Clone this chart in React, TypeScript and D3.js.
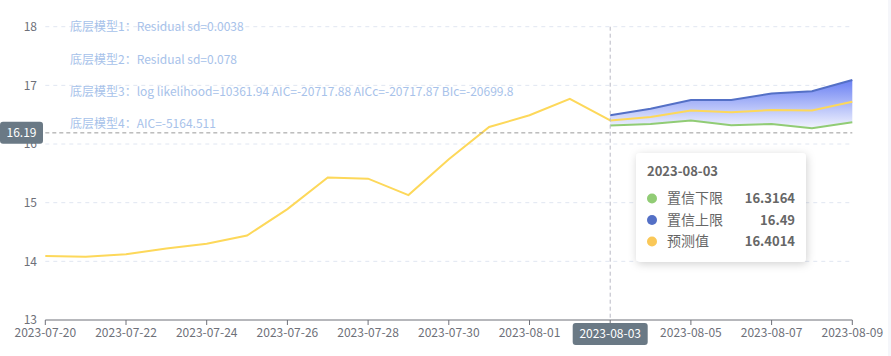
import React from "react";
import * as d3 from "d3";

const histDates = ["2023-07-20","2023-07-21","2023-07-22","2023-07-23","2023-07-24","2023-07-25","2023-07-26","2023-07-27","2023-07-28","2023-07-29","2023-07-30","2023-07-31","2023-08-01","2023-08-02","2023-08-03"];
const histValues = [14.09,14.08,14.12,14.22,14.30,14.44,14.89,15.43,15.41,15.13,15.74,16.29,16.49,16.77,16.4014];

const fcDates = ["2023-08-03","2023-08-04","2023-08-05","2023-08-06","2023-08-07","2023-08-08","2023-08-09"];
const lowerValues = [16.3164,16.34,16.40,16.32,16.34,16.27,16.37];
const upperValues = [16.49,16.60,16.75,16.75,16.86,16.90,17.09];
const predValues = [16.4014,16.46,16.57,16.54,16.58,16.57,16.72];

const xTicks = ["2023-07-20","2023-07-22","2023-07-24","2023-07-26","2023-07-28","2023-07-30","2023-08-01","2023-08-03","2023-08-05","2023-08-07","2023-08-09"];
const yTicks = [13,14,15,16,17,18];

const notes = [
  "底层模型1：Residual sd=0.0038",
  "底层模型2：Residual sd=0.078",
  "底层模型3：log likelihood=10361.94 AIC=-20717.88 AICc=-20717.87 BIc=-20699.8",
  "底层模型4：AIC=-5164.511",
];

const pointerDate = "2023-08-03";
const pointerY = 16.19;
const tooltipRows = [
  { name: "置信下限", value: "16.3164", color: "#91cc75" },
  { name: "置信上限", value: "16.49", color: "#5470c6" },
  { name: "预测值", value: "16.4014", color: "#fac858" },
];

const FONT = "'Noto Sans CJK SC', 'Noto Sans', sans-serif";

export default function App() {
  const W = 891, H = 356;
  const parse = (s: string) => new Date(s + "T00:00:00Z");
  const x = d3.scaleUtc().domain([parse("2023-07-20"), parse("2023-08-09")]).range([45.3, 852.3]);
  const y = d3.scaleLinear().domain([13, 18]).range([320, 26.7]);

  const line = d3.line<[string, number]>().x(d => x(parse(d[0]))).y(d => y(d[1]));
  const hist = histDates.map((d, i) => [d, histValues[i]] as [string, number]);
  const low = fcDates.map((d, i) => [d, lowerValues[i]] as [string, number]);
  const up = fcDates.map((d, i) => [d, upperValues[i]] as [string, number]);
  const pred = fcDates.map((d, i) => [d, predValues[i]] as [string, number]);
  const area = d3.area<number>()
    .x((_, i) => x(parse(fcDates[i])))
    .y0((_, i) => y(lowerValues[i]))
    .y1(d => y(d));

  const px = x(parse(pointerDate));
  const py = y(pointerY);
  const x0 = x.range()[0], x1 = x.range()[1];

  const tipX = 636, tipY = 153, tipW = 170, tipH = 109;

  return (
    <svg width={W} height={H} style={{ position: "absolute", left: 0, top: 0, display: "block", fontFamily: FONT }}>
      <defs>
        <linearGradient id="band" x1="0" y1="0" x2="0" y2="1">
          <stop offset="0" stopColor="#6a80f3" />
          <stop offset="1" stopColor="#f2f4fe" />
        </linearGradient>
        <filter id="shadow" x="-20%" y="-20%" width="140%" height="150%">
          <feDropShadow dx="1" dy="2" stdDeviation="4" floodColor="#000" floodOpacity="0.18" />
        </filter>
      </defs>
      <rect x={0} y={0} width={W} height={H} fill="#fff" />
      <rect x={888} y={0} width={3} height={H} fill="#f5f6fa" />

      {yTicks.filter(t => t !== 13).map(t => (
        <line key={t} x1={x0} x2={x1} y1={y(t)} y2={y(t)} stroke="#e0e6f1" strokeDasharray="4,4" />
      ))}
      {yTicks.map(t => (
        <text key={t} x={37} y={y(t)} dy="0.35em" textAnchor="end" fontSize={12} fill="#6e7079">{t}</text>
      ))}

      {notes.map((n, i) => (
        <text key={i} x={70} y={27 + i * 32.3} dy="0.35em" fontSize={12} fill="#a7c2ea">{n}</text>
      ))}

      <path d={area(upperValues) || ""} fill="url(#band)" />
      <path d={line(low) || ""} fill="none" stroke="#91cc75" strokeWidth={2} />
      <path d={line(up) || ""} fill="none" stroke="#5470c6" strokeWidth={2} />
      <path d={line(pred) || ""} fill="none" stroke="#fdd85a" strokeWidth={2} />
      <path d={line(hist) || ""} fill="none" stroke="#fdd85a" strokeWidth={2} />

      <line x1={px} x2={px} y1={y(18)} y2={y(13)} stroke="#b8b8c4" strokeDasharray="4,3" />
      <line x1={x0} x2={x1} y1={py} y2={py} stroke="#999" strokeDasharray="4,3" />

      <line x1={x0} x2={x1} y1={y(13)} y2={y(13)} stroke="#6e7079" />
      {xTicks.map(t => (
        <g key={t} transform={`translate(${x(parse(t))},0)`}>
          <line y1={y(13)} y2={y(13) + 5} stroke="#6e7079" />
          {t !== pointerDate && (
            <text y={333} dy="0.35em" textAnchor="middle" fontSize={12} fill="#6e7079">{t}</text>
          )}
        </g>
      ))}

      <rect x={px - 37.5} y={323} width={75} height={22} rx={3} fill="#6a7985" />
      <text x={px} y={334} dy="0.35em" textAnchor="middle" fontSize={12} fill="#fff">{pointerDate}</text>

      <rect x={0} y={py - 11} width={43} height={22} rx={3} fill="#6a7985" />
      <text x={21.5} y={py} dy="0.35em" textAnchor="middle" fontSize={12} fill="#fff">{pointerY}</text>

      <g filter="url(#shadow)">
        <rect x={tipX} y={tipY} width={tipW} height={tipH} rx={4} fill="#fff" />
      </g>
      <text x={647} y={171} dy="0.35em" fontSize={13} fontWeight="bold" fill="#666">{pointerDate}</text>
      {tooltipRows.map((r, i) => {
        const ry = 198.5 + i * 21.5;
        return (
          <g key={r.name}>
            <circle cx={652} cy={ry} r={5} fill={r.color} />
            <text x={667} y={ry} dy="0.35em" fontSize={14} fill="#666">{r.name}</text>
            <text x={795} y={ry} dy="0.35em" textAnchor="end" fontSize={13} fontWeight="bold" fill="#666">{r.value}</text>
          </g>
        );
      })}
    </svg>
  );
}
